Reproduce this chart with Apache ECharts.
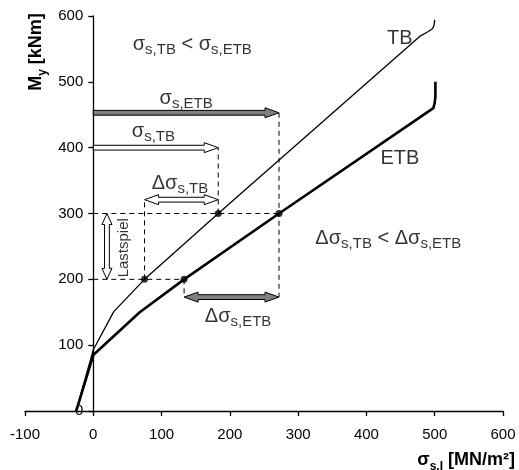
<!DOCTYPE html>
<html><head><meta charset="utf-8">
<script src="https://cdn.jsdelivr.net/npm/echarts@6/dist/echarts.min.js"></script>
<style>html,body{margin:0;padding:0;background:#fff}#c{width:519px;height:470px}</style>
</head><body><div id="c"></div>
<script>
// ---- data ----
const xTicks = [-100, 0, 100, 200, 300, 400, 500, 600];
const yTicks = [0, 100, 200, 300, 400, 500, 600];
const tbStress  = [-25, 0, 30, 75, 183, 478, 490, 497, 499, 500];
const tbMoment  = [0, 93, 151, 200, 300, 569, 576, 581, 586, 594];
const etbStress = [-25, 0, 68, 133, 272, 498, 500, 501, 501];
const etbMoment = [0, 85, 150, 200, 300, 460, 468, 478, 500];
const cycleStress = [75, 183, 133, 272];
const cycleMoment = [200, 300, 200, 300];
// dashed guides: x1, y1, x2, y2
const dashSegments = [[0,300,272,300],[0,200,133,200],[75,200,75,321],[183,300,183,400],[272,453,272,173],[133,200,133,173]];
// arrows: x1, y1, x2, y2, doubleHead, grayFill
const arrows = [[0,453,272,453,0,1],[0,400,183,400,0,0],[75,321,183,321,1,0],[133,173,272,173,1,1],[20,200,20,300,1,0]];
// annotation texts: x, y, text, rotate
const notes = [
  [145,555,'{m|σ}{s|s,TB}{m| < σ}{s|s,ETB}',0],
  [136,473,'{m|σ}{s|s,ETB}',0],
  [88,423,'{m|σ}{s|s,TB}',0],
  [127,344,'{m|Δσ}{s|s,TB}',0],
  [212,142,'{m|Δσ}{s|s,ETB}',0],
  [432,260,'{m|Δσ}{s|s,TB}{m| < Δσ}{s|s,ETB}',0],
  [449,564,'{m|TB}',0],
  [449,382,'{m|ETB}',0],
  [45,248,'{n|Lastspiel}',90]
];

const FF = 'Liberation Sans, Arial, sans-serif';
const pair = (xs, ys) => xs.map((x, i) => [x, ys[i]]);

const richMain = {
  m: {fontSize: 20, fontFamily: FF, color: '#000', lineHeight: 22, verticalAlign: 'top'},
  s: {fontSize: 15, fontFamily: FF, color: '#000', lineHeight: 15, padding: [8,0,0,0], verticalAlign: 'top'},
  n: {fontSize: 15, fontFamily: FF, color: '#000'}
};

function arrowPoints(p1, p2, both, sh, hh, hl) {
  const dx = p2[0]-p1[0], dy = p2[1]-p1[1];
  const L = Math.hypot(dx, dy), ux = dx/L, uy = dy/L, nx = -uy, ny = ux;
  const t1 = L - hl;
  let loc;
  if (both) {
    loc = [[0,0],[hl,hh],[hl,sh],[t1,sh],[t1,hh],[L,0],[t1,-hh],[t1,-sh],[hl,-sh],[hl,-hh]];
  } else {
    loc = [[0,sh],[t1,sh],[t1,hh],[L,0],[t1,-hh],[t1,-sh],[0,-sh]];
  }
  return loc.map(([t, n]) => [p1[0] + ux*t + nx*n, p1[1] + uy*t + ny*n]);
}

const GL = 25, GR = 16, PLOT_W = 519 - GL - GR;
const chart = echarts.init(document.getElementById('c'), null, {renderer: 'canvas'});
const axisStyle = {color: '#000', width: 1.3};
const xMin = xTicks[0], xMax = xTicks[xTicks.length-1];
const titleRich = {
  b: {fontSize: 18, fontWeight: 'bold', fontFamily: FF, fill: '#000', lineHeight: 20, verticalAlign: 'top'},
  bs: {fontSize: 12, fontWeight: 'bold', fontFamily: FF, fill: '#000', lineHeight: 12, padding: [10,0,0,0], verticalAlign: 'top'}
};
chart.setOption({
  animation: false,
  backgroundColor: '#fff',
  grid: {left: GL, right: GR, top: 16, bottom: 59, containLabel: false, outerBoundsMode: 'none'},
  xAxis: {
    type: 'value', min: xMin, max: xMax, interval: xTicks[1]-xTicks[0],
    axisLine: {show: true, onZero: false, lineStyle: axisStyle},
    axisTick: {show: true, length: 5, lineStyle: axisStyle},
    axisLabel: {color: '#000', fontSize: 15, fontFamily: FF, margin: 16},
    splitLine: {show: false}
  },
  yAxis: {
    type: 'value', min: yTicks[0], max: yTicks[yTicks.length-1], interval: yTicks[1]-yTicks[0],
    position: 'left',
    // place the y axis at stress = 0
    offset: -PLOT_W * (0 - xMin) / (xMax - xMin),
    axisLine: {show: true, onZero: false, lineStyle: axisStyle},
    axisTick: {show: true, length: 5, lineStyle: axisStyle},
    axisLabel: {color: '#000', fontSize: 15, fontFamily: FF, margin: 10},
    splitLine: {show: false}
  },
  graphic: [
    {type: 'text', right: 4, top: 451, style: {text: '{b|σ}{bs|s,I}{b| [MN/m²]}', rich: titleRich}},
    {type: 'text', x: 37, y: 52, rotation: Math.PI/2, style: {
      text: '{b|M}{bs|y}{b| [kNm]}', align: 'center', verticalAlign: 'middle', rich: titleRich}}
  ],
  series: [
    {
      type: 'custom', name: 'guides', z: 1,
      encode: {x: [0, 2], y: [1, 3]},
      data: dashSegments,
      renderItem: (params, api) => {
        const a = api.coord([api.value(0), api.value(1)]);
        const b = api.coord([api.value(2), api.value(3)]);
        return {type: 'line', shape: {x1: a[0], y1: a[1], x2: b[0], y2: b[1]},
          style: {stroke: '#000', lineWidth: 1, lineDash: [5, 4]}};
      }
    },
    {
      type: 'line', name: 'TB', z: 3, data: pair(tbStress, tbMoment), symbol: 'none',
      lineStyle: {color: '#000', width: 1.3}
    },
    {
      type: 'line', name: 'ETB', z: 3, data: pair(etbStress, etbMoment), symbol: 'none',
      lineStyle: {color: '#000', width: 2.6}
    },
    {
      type: 'scatter', name: 'points', z: 4, data: pair(cycleStress, cycleMoment),
      symbol: 'circle', symbolSize: 7, itemStyle: {color: '#000'}
    },
    {
      type: 'custom', name: 'arrows', z: 5,
      encode: {x: [0, 2], y: [1, 3]},
      data: arrows,
      renderItem: (params, api) => {
        const a = api.coord([api.value(0), api.value(1)]);
        const b = api.coord([api.value(2), api.value(3)]);
        const both = api.value(4), gray = api.value(5);
        const vertical = Math.abs(a[0]-b[0]) < 1;
        const pts = arrowPoints(a, b, both, 2.4, 5, vertical ? 11 : 14);
        return {type: 'polygon', shape: {points: pts},
          style: {fill: gray ? '#808080' : '#fff', stroke: '#000', lineWidth: 1}};
      }
    },
    {
      type: 'scatter', name: 'notes', z: 6, symbolSize: 0, silent: true,
      data: notes.map(n => ({
        value: [n[0], n[1]],
        label: {show: true, position: 'inside', formatter: n[2], rotate: n[3], rich: richMain}
      })),
      label: {show: true, position: 'inside', rich: richMain}
    }
  ]
});
</script></body></html>
